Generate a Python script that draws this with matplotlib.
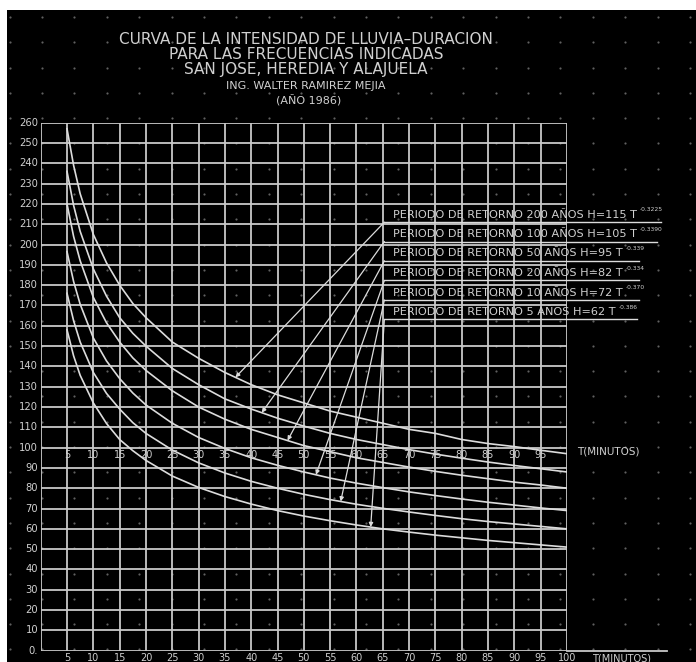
import numpy as np
import matplotlib.pyplot as plt

duracion = [5, 6.25, 7.5, 10, 12.5, 15, 17.5, 20, 25, 30, 35, 40, 45, 50, 55, 60, 65, 70, 75, 80, 85, 90, 95, 100]
i_200 = [257, 239, 225, 205, 191, 180, 171, 164, 152, 144, 137, 131, 126, 122, 118, 115, 112, 109, 107, 104, 102, 100.5, 98.7, 97]
i_100 = [236, 219.3, 206.5, 188, 174.6, 164, 156.3, 150, 139, 131, 124, 119, 114.5, 110.6, 107, 104, 101.5, 99, 96.8, 94.8, 92.9, 91.2, 89.6, 88]
i_50 = [220, 204, 192, 174, 161.5, 152, 144.2, 138, 128, 120, 114, 109, 105, 101, 98, 95, 92.7, 90.4, 88.3, 86.4, 84.7, 83, 81.6, 80]
i_20 = [196.5, 181.8, 170.6, 154, 142.7, 134, 126.9, 121, 112, 105, 99.6, 95, 91.3, 88, 85, 82.5, 80.3, 78.2, 76.4, 74.7, 73.1, 71.7, 70.3, 69]
i_10 = [176, 162.5, 152, 137, 126.7, 119, 112.3, 107, 98.8, 92.5, 87.5, 83.4, 80, 77, 74.4, 72.1, 70.1, 68.3, 66.6, 65, 63.6, 62.4, 61.2, 60]
i_5 = [158, 145.2, 135.6, 122, 111.9, 104, 98.5, 93.7, 86, 80.4, 75.9, 72.2, 69, 66.3, 64, 61.9, 60, 58.4, 56.9, 55.6, 54.3, 53.2, 52.1, 51]

periodos = ['200', '100', '50', '20', '10', '5']
coef_h = ['115', '105', '95', '82', '72', '62']
exponentes = ['-0.3225', '-0.3390', '-0.339', '-0.334', '-0.370', '-0.386']
t_flecha = [37.0, 42.0, 46.9, 52.3, 57.0, 62.7]

titulo = ['CURVA DE LA INTENSIDAD DE LLUVIA–DURACION',
          'PARA LAS FRECUENCIAS INDICADAS',
          'SAN JOSE, HEREDIA Y ALAJUELA']
autor = ['ING. WALTER RAMIREZ MEJIA', '(AÑO 1986)']

curvas = [i_200, i_100, i_50, i_20, i_10, i_5]

W, H = 696, 662
LINE = '#dcdcdc'
GRID = '#c8c8c8'
TXT = '#d0d0d0'

fig = plt.figure(figsize=(W / 100, H / 100), dpi=100, facecolor='white')

# fondo negro (pixeles)
bg = fig.add_axes([7 / W, 0, 1 - 7 / W, 1 - 10 / H])
bg.set_facecolor('black')
bg.set_xlim(7, W)
bg.set_ylim(H, 10)
bg.set_xticks([])
bg.set_yticks([])
for s in bg.spines.values():
    s.set_visible(False)

# puntos de la reticula del dibujo
px, py = np.meshgrid(np.arange(9.6, W, 32.4), np.arange(17, H, 25.3))
bg.scatter(px.ravel(), py.ravel(), s=2.5, color='#606060', linewidths=0)

bg.text(306, 55, '\n'.join(titulo), ha='center', va='center', multialignment='center',
        fontsize=11, linespacing=1.0, color=TXT)
bg.text(306, 86.5, autor[0], ha='center', va='center', fontsize=8, color=TXT)
bg.text(309, 101, autor[1], ha='center', va='center', fontsize=8, color=TXT)

# area de la grafica
ax = fig.add_axes([40.7 / W, (H - 650.7) / H, (567 - 40.7) / W, (650.7 - 122.7) / H])
ax.set_facecolor('none')
ax.set_xlim(0, 100)
ax.set_ylim(0, 260)
ax.axis('off')

x_grid = np.arange(0, 101, 5)
y_grid = np.arange(0, 261, 10)
ax.vlines(x_grid, 0, 260, color=GRID, lw=1.3)
ax.hlines(y_grid, 0, 100, color=GRID, lw=1.3)
ax.plot([100, 119], [0, 0], color=GRID, lw=1.3, clip_on=False)

for y in y_grid:
    lab = '0.' if y == 0 else str(y)
    ax.text(-0.5, y, lab, ha='right', va='center', fontsize=7.2, color=TXT, clip_on=False)

for x in x_grid[1:]:
    ax.annotate(str(x), (x, 0), xytext=(0, -7.5), textcoords='offset pixels',
                ha='center', va='center', fontsize=7, color=TXT, annotation_clip=False)
    if x < 100:
        ax.text(x, 96.5, str(x), ha='center', va='center', fontsize=7, color=TXT)
ax.text(101.9, 98, 'T(MINUTOS)', ha='left', va='center', fontsize=7.5, color=TXT, clip_on=False)
ax.annotate('T(MINUTOS)', (104.8, 0), xytext=(0, -7.5), textcoords='offset pixels',
            ha='left', va='center', fontsize=7, color=TXT, annotation_clip=False)

for serie in curvas:
    ax.plot(duracion, serie, color=LINE, lw=1.2)

# leyenda con flechas
y_rows = [211, 201.5, 192, 182.3, 172.7, 163.1]
x_end = [117.9, 117.1, 113.7, 113.7, 113.7, 113.3]
for k in range(6):
    y = y_rows[k]
    ax.plot([65.3, x_end[k]], [y, y], color=LINE, lw=1.0, clip_on=False)
    txt = ax.text(66.9, y + 3.6, f'PERIODO DE RETORNO {periodos[k]} AÑOS H={coef_h[k]} T',
                  ha='left', va='center', fontsize=8.1, color=TXT, clip_on=False)
    ax.annotate(exponentes[k], xy=(1, 1), xycoords=txt, xytext=(3, 0),
                textcoords='offset pixels', ha='left', va='center', fontsize=4.3, color=TXT)
    i_tip = np.interp(t_flecha[k], duracion, curvas[k])
    ax.annotate('', xy=(t_flecha[k], i_tip), xytext=(65.3, y),
                arrowprops=dict(arrowstyle='-|>', color=LINE, lw=0.9, mutation_scale=6,
                                shrinkA=0, shrinkB=0),
                annotation_clip=False)

plt.savefig('out.png', dpi=100, facecolor=fig.get_facecolor())
